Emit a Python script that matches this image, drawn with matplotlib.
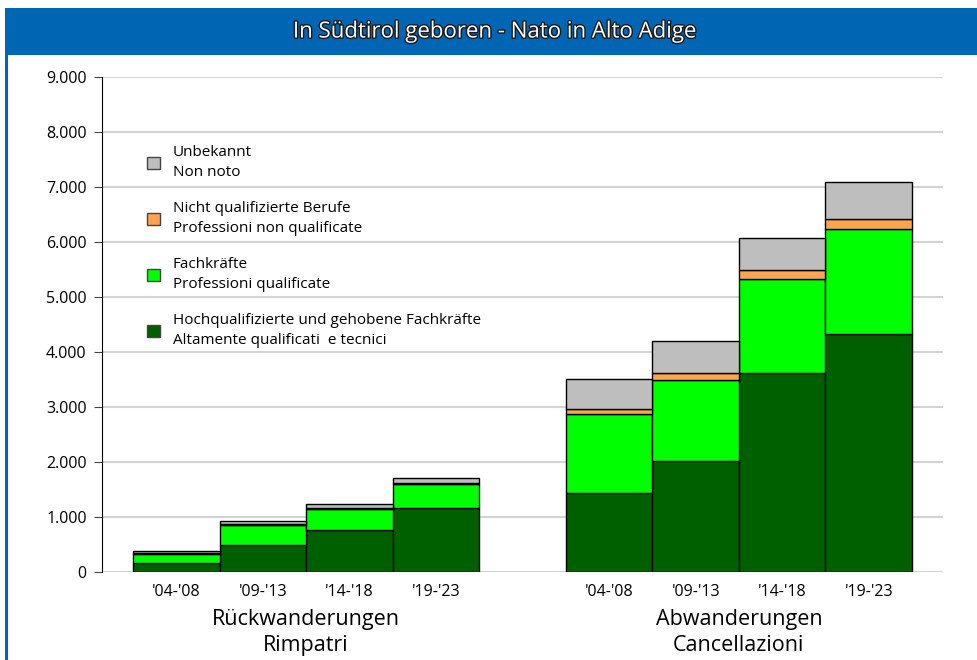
import matplotlib
matplotlib.use("Agg")
import matplotlib.pyplot as plt
import matplotlib.patheffects as pe
from matplotlib.patches import Rectangle, Patch
from matplotlib.ticker import FuncFormatter

plt.rcParams['font.family'] = ['Open Sans', 'DejaVu Sans']

# ===== data =====
periods = ["'04-'08", "'09-'13", "'14-'18", "'19-'23"]
groups = ["Rückwanderungen\nRimpatri", "Abwanderungen\nCancellazioni"]

# Rückwanderungen (returns)
ret_high = [170, 485, 760, 1160]
ret_skilled = [158, 364, 380, 434]
ret_unskilled = [12, 20, 25, 30]
ret_unknown = [50, 50, 65, 85]

# Abwanderungen (departures)
dep_high = [1436, 2018, 3618, 4327]
dep_skilled = [1431, 1473, 1709, 1904]
dep_unskilled = [91, 122, 164, 182]
dep_unknown = [551, 592, 582, 672]

labels = [
    "Hochqualifizierte und gehobene Fachkräfte\nAltamente qualificati  e tecnici",
    "Fachkräfte\nProfessioni qualificate",
    "Nicht qualifizierte Berufe\nProfessioni non qualificate",
    "Unbekannt\nNon noto",
]
colors = ["#006000", "#00FF00", "#FFA54F", "#BEBEBE"]

# ===== figure =====
W, H = 978, 660
fig = plt.figure(figsize=(W / 100, H / 100), dpi=100)
fig.patch.set_facecolor("white")

def px(x0, y0, x1, y1):
    # pixel box (top-left origin) -> figure fraction rect
    return [x0 / W, 1 - y1 / H, (x1 - x0) / W, (y1 - y0) / H]

# title bar + left frame line
fig.patches.append(Rectangle((5 / W, 1 - 55 / H), 1, 47 / H, transform=fig.transFigure,
                             facecolor="#0066B3", edgecolor="none", zorder=0))
fig.patches.append(Rectangle((5 / W, 0), 2.5 / W, 1 - 8 / H, transform=fig.transFigure,
                             facecolor="#0066B3", edgecolor="none", zorder=0))
fig.text(495 / W, 1 - 32 / H, "In Südtirol geboren - Nato in Alto Adige",
         ha="center", va="center", color="white", fontsize=16,
         path_effects=[pe.withStroke(linewidth=2, foreground="#1a1a1a")])

ax = fig.add_axes(px(102, 77, 943, 572))

x_ret = [0, 1, 2, 3]
x_dep = [5, 6, 7, 8]

def stack(xs, layers):
    bottom = [0] * len(xs)
    for vals, c in zip(layers, colors):
        ax.bar(xs, vals, width=1.0, bottom=bottom, color=c, edgecolor="black",
               linewidth=1, zorder=3)
        bottom = [b + v for b, v in zip(bottom, vals)]

stack(x_ret, [ret_high, ret_skilled, ret_unskilled, ret_unknown])
stack(x_dep, [dep_high, dep_skilled, dep_unskilled, dep_unknown])

ax.set_xlim(-0.858, 8.858)
ax.set_ylim(0, 9000)
ax.set_yticks(range(0, 9001, 1000))
ax.yaxis.set_major_formatter(FuncFormatter(lambda v, p: f"{int(v):,}".replace(",", ".")))
ax.yaxis.grid(True, color="#D3D3D3", linewidth=1.5, zorder=0)
ax.set_axisbelow(True)
ax.set_xticks(x_ret + x_dep)
ax.set_xticklabels(periods + periods)
ax.tick_params(axis="x", length=0, pad=9, labelsize=11.5)
ax.tick_params(axis="y", length=6, color="#444444", labelsize=11.5, pad=5)
for s in ["top", "right", "bottom"]:
    ax.spines[s].set_visible(False)
ax.spines["left"].set_color("black")

# group labels
for xc, g in zip([1.5, 6.5], groups):
    ax.text(xc, -0.075, g, transform=ax.get_xaxis_transform(), ha="center", va="top",
            fontsize=15.5, linespacing=1.32)

# legend (top entry = top of stack)
handles = [Patch(facecolor=c, edgecolor="#444444", linewidth=1) for c in colors][::-1]
leg = ax.legend(handles, labels[::-1], loc="upper left", bbox_to_anchor=(45 / 841, 1 - 68 / 495),
                frameon=False, fontsize=11, handlelength=0.85, handleheight=0.85,
                handletextpad=0.85, labelspacing=1.38, borderpad=0, borderaxespad=0)
for t in leg.get_texts():
    t.set_linespacing(1.45)

fig.savefig("out.png", dpi=100)
